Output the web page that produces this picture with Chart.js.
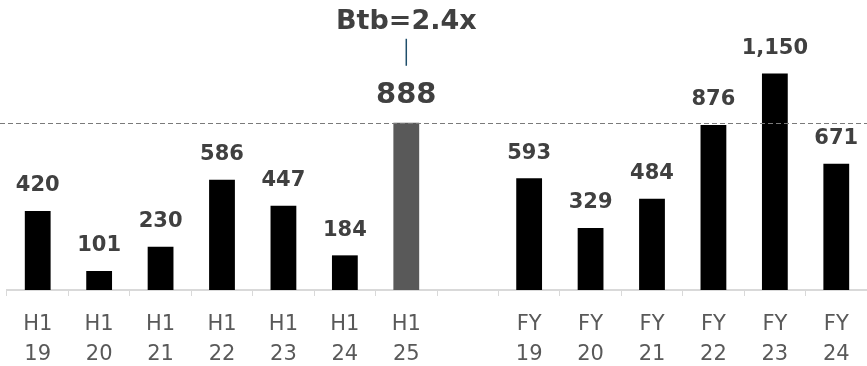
<!DOCTYPE html>
<html>
<head>
<meta charset="utf-8">
<script src="https://cdn.jsdelivr.net/npm/chart.js@4/dist/chart.umd.min.js"></script>
<style>
  html, body { margin: 0; padding: 0; background: #fff; }
  #wrap { width: 867px; height: 366px; position: relative; }
</style>
</head>
<body>
<div id="wrap"><canvas id="orders"></canvas></div>
<script>
// Half-year and full-year periods, one empty slot separates the two groups
const periods = [
  ['H1', '19'], ['H1', '20'], ['H1', '21'], ['H1', '22'], ['H1', '23'], ['H1', '24'], ['H1', '25'],
  '',
  ['FY', '19'], ['FY', '20'], ['FY', '21'], ['FY', '22'], ['FY', '23'], ['FY', '24']
];
const orders = [420, 101, 230, 586, 447, 184, 888, null, 593, 329, 484, 876, 1150, 671];
const highlightIndex = 6;          // H1 25
const referenceValue = 888;        // dashed line level
const btbLabel = 'Btb=2.4x';

const barColors = orders.map((v, i) => i === highlightIndex ? '#595959' : '#000000');

const FONT = '"DejaVu Sans", sans-serif';

// dashed reference line + value labels + book-to-bill callout
const annotations = {
  id: 'annotations',
  afterDatasetsDraw(chart) {
    const { ctx, scales: { y } } = chart;
    const meta = chart.getDatasetMeta(0);

    ctx.save();
    const yRef = Math.round(y.getPixelForValue(referenceValue)) + 0.5;
    ctx.strokeStyle = '#7a7a7a';
    ctx.lineWidth = 1;
    ctx.setLineDash([5, 3]);
    ctx.beginPath();
    ctx.moveTo(0, yRef);
    ctx.lineTo(chart.width, yRef);
    ctx.stroke();
    ctx.setLineDash([]);

    ctx.textAlign = 'center';
    ctx.textBaseline = 'middle';
    ctx.fillStyle = '#404040';
    meta.data.forEach((bar, i) => {
      const v = orders[i];
      if (v == null) return;
      const big = i === highlightIndex;
      ctx.font = (big ? '700 29px ' : '700 21px ') + FONT;
      ctx.fillText(v.toLocaleString('en-US'), bar.x, bar.y - (big ? 27 : 25));
    });

    const hb = meta.data[highlightIndex];
    ctx.strokeStyle = '#1f4e6b';
    ctx.lineWidth = 1.5;
    ctx.beginPath();
    ctx.moveTo(hb.x, hb.y - 84);
    ctx.lineTo(hb.x, hb.y - 57);
    ctx.stroke();
    ctx.font = '700 27px ' + FONT;
    ctx.fillText(btbLabel, hb.x, hb.y - 101);
    ctx.restore();
  }
};

new Chart(document.getElementById('orders'), {
  type: 'bar',
  data: {
    labels: periods,
    datasets: [{
      data: orders,
      backgroundColor: barColors,
      categoryPercentage: 1,
      barPercentage: 0.42
    }]
  },
  options: {
    responsive: true,
    maintainAspectRatio: false,
    animation: false,
    layout: { padding: { left: 7, right: 0, top: 0, bottom: 0 } },
    plugins: { legend: { display: false }, tooltip: { enabled: false } },
    scales: {
      x: {
        afterFit(scale) { scale.height = 76; },
        grid: {
          drawOnChartArea: false,
          drawTicks: true,
          tickLength: 6,
          color: '#d9d9d9',
          offset: true
        },
        border: { color: '#d9d9d9', width: 2 },
        ticks: {
          color: '#595959',
          font: { family: FONT, size: 21, lineHeight: 1.43 },
          padding: 14,
          maxRotation: 0,
          autoSkip: false
        }
      },
      y: {
        display: false,
        min: 0,
        max: 1540
      }
    }
  },
  plugins: [annotations]
});
</script>
</body>
</html>
